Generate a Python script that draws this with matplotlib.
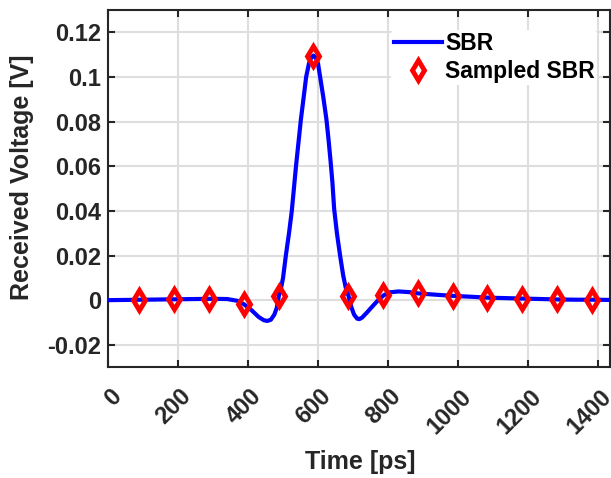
import numpy as np
import matplotlib
matplotlib.use("Agg")
import matplotlib.pyplot as plt
from matplotlib import transforms

# SBR waveform (time in ps, voltage in V)
t_sbr = [0, 50, 100, 200, 300, 340, 370, 388, 410, 430, 445, 455, 465, 475,
         482, 488, 495, 500, 508, 517, 525, 531, 537, 545, 551, 559, 566, 574,
         580, 587, 594, 600, 606, 615, 624, 630, 636, 641, 646, 654, 663, 672,
         680, 687, 695, 703, 712, 718, 726, 740, 760, 775, 788, 805, 830, 860,
         888, 940, 988, 1040, 1088, 1140, 1188, 1240, 1288, 1340, 1388, 1440]
v_sbr = [0.0, 0.0001, 0.0002, 0.0004, 0.0006, 0.0005, -0.0003, -0.0018,
         -0.0045, -0.0075, -0.0090, -0.0093, -0.0088, -0.0065, -0.0035, 0.002,
         0.006, 0.010, 0.020, 0.030, 0.040, 0.050, 0.060, 0.072, 0.081, 0.091,
         0.100, 0.106, 0.1085, 0.1096, 0.1085, 0.106, 0.100, 0.091, 0.081,
         0.072, 0.062, 0.053, 0.041, 0.030, 0.020, 0.011, 0.005, 0.002, -0.003,
         -0.0065, -0.0083, -0.0085, -0.0078, -0.0055, -0.0020, 0.0005, 0.0022,
         0.0035, 0.0039, 0.0036, 0.0030, 0.0024, 0.0019, 0.0015, 0.0011,
         0.0009, 0.0007, 0.0005, 0.0003, 0.0002, 0.0002, 0.0001]

# sampled points, one per UI
t_smp = [89, 189, 289, 388, 487, 587, 687, 786, 885, 985, 1084, 1184, 1284, 1384]
v_smp = [0.0001, 0.0003, 0.0005, -0.0018, 0.0019, 0.1096, 0.0019, 0.0022,
         0.0030, 0.0019, 0.0011, 0.0007, 0.0003, 0.0002]

xticks = [0, 200, 400, 600, 800, 1000, 1200, 1400]
yticks = [-0.02, 0, 0.02, 0.04, 0.06, 0.08, 0.1, 0.12]
ytick_labels = ["-0.02", "0", "0.02", "0.04", "0.06", "0.08", "0.1", "0.12"]

plt.rcParams['font.family'] = ['Liberation Sans', 'DejaVu Sans']
plt.rcParams['font.weight'] = 'bold'

fig = plt.figure(figsize=(6.11, 4.78), dpi=100)
ax = fig.add_axes([0.177, 0.232, 0.821, 0.747])

ax.plot(t_sbr, v_sbr, color='#0000ff', lw=3, label='SBR', zorder=3)
ax.plot(t_smp, v_smp, ls='none', marker='d', ms=10, mfc='none', mec='#ff0000',
        mew=3.5, label='Sampled SBR', zorder=4)

ax.set_xlim(0, 1434)
ax.set_ylim(-0.03, 0.13)
ax.set_xticks(xticks)
ax.set_yticks(yticks)
ax.set_yticklabels(ytick_labels)

ax.grid(True, color='#dedede', lw=1.5)
ax.set_axisbelow(True)
ax.tick_params(direction='in', length=5, width=1.5, color='#262626',
               top=True, right=True, labelsize=17, labelcolor='#262626')
ax.tick_params(axis='y', pad=5)
for s in ax.spines.values():
    s.set_color('#262626')
    s.set_linewidth(1.5)

off = transforms.ScaledTranslation(7 / 72, -15 / 72, fig.dpi_scale_trans)
for lab in ax.get_xticklabels():
    lab.set_rotation(45)
    lab.set_ha('right')
    lab.set_va('center')
    lab.set_rotation_mode('anchor')
    lab.set_transform(lab.get_transform() + off)

ax.set_xlabel('Time [ps]', fontsize=18, fontweight='bold', color='#262626')
ax.set_ylabel('Received Voltage [V]', fontsize=18, fontweight='bold',
              color='#262626')
ax.xaxis.set_label_coords(0.502, -0.232)
ax.yaxis.set_label_coords(-0.147, 0.531)

leg = ax.legend(loc='upper right', bbox_to_anchor=(0.975, 0.945), fontsize=16.5,
                frameon=True, handlelength=2.1, handletextpad=0.15,
                labelspacing=0.2, borderpad=0.1, borderaxespad=0)
leg.get_frame().set_edgecolor('none')
leg.get_frame().set_facecolor('white')
leg.get_frame().set_alpha(1)

fig.savefig('out.png', dpi=100)
